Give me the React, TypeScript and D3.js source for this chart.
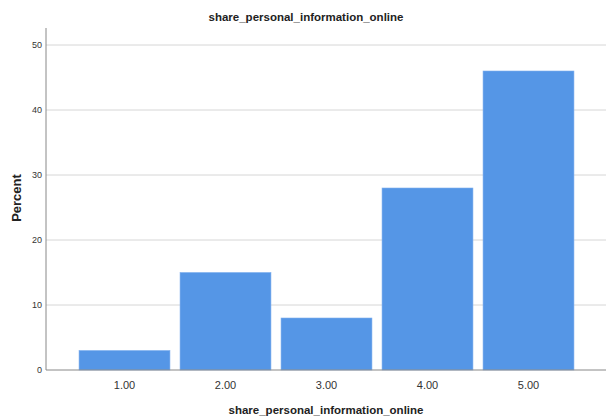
import React from "react";
import * as d3 from "d3";

const categories = ["1.00", "2.00", "3.00", "4.00", "5.00"];
const percents = [3, 15, 8, 28, 46];
const yTicks = [0, 10, 20, 30, 40, 50];

export default function App() {
  const W = 606, H = 420;
  const axisX = 46, right = 606, zeroY = 370;
  const y = d3.scaleLinear().domain([0, 50]).range([zeroY, 45]);
  const x = d3.scaleBand<string>().domain(categories).range([74, 579]).paddingInner(0.1).paddingOuter(0.05);
  const font = "'Liberation Sans', Arial, sans-serif";
  return (
    <svg width={W} height={H} style={{ position: "absolute", left: 0, top: 0 }} fontFamily={font}>
      <rect width={W} height={H} fill="#fff" />
      <text x={306} y={21} textAnchor="middle" fontSize={11.5} fontWeight="bold" fill="#222">share_personal_information_online</text>
      {yTicks.filter(t => t > 0).map(t => (
        <line key={t} x1={axisX} x2={right} y1={y(t)} y2={y(t)} stroke="#d6d6d6" strokeWidth={1} />
      ))}
      {yTicks.map(t => (
        <text key={t} x={42} y={y(t) + 3} textAnchor="end" fontSize={9} fill="#333">{t}</text>
      ))}
      {percents.map((v, i) => (
        <rect key={i} x={x(categories[i])!} y={y(v)} width={x.bandwidth()} height={zeroY - y(v)} fill="#5596E6" stroke="#7fb0ee" strokeWidth={0.6} />
      ))}
      <line x1={axisX} x2={axisX} y1={28} y2={zeroY} stroke="#888" strokeWidth={1} />
      <line x1={axisX} x2={right} y1={zeroY} y2={zeroY} stroke="#888" strokeWidth={1} />
      {categories.map(c => (
        <text key={c} x={x(c)! + x.bandwidth() / 2} y={389} textAnchor="middle" fontSize={11} fill="#333">{c}</text>
      ))}
      <text x={326} y={414} textAnchor="middle" fontSize={11.5} fontWeight="bold" fill="#222">share_personal_information_online</text>
      <text transform={`translate(21,198) rotate(-90)`} textAnchor="middle" fontSize={13} fontWeight="bold" fill="#222">Percent</text>
    </svg>
  );
}
